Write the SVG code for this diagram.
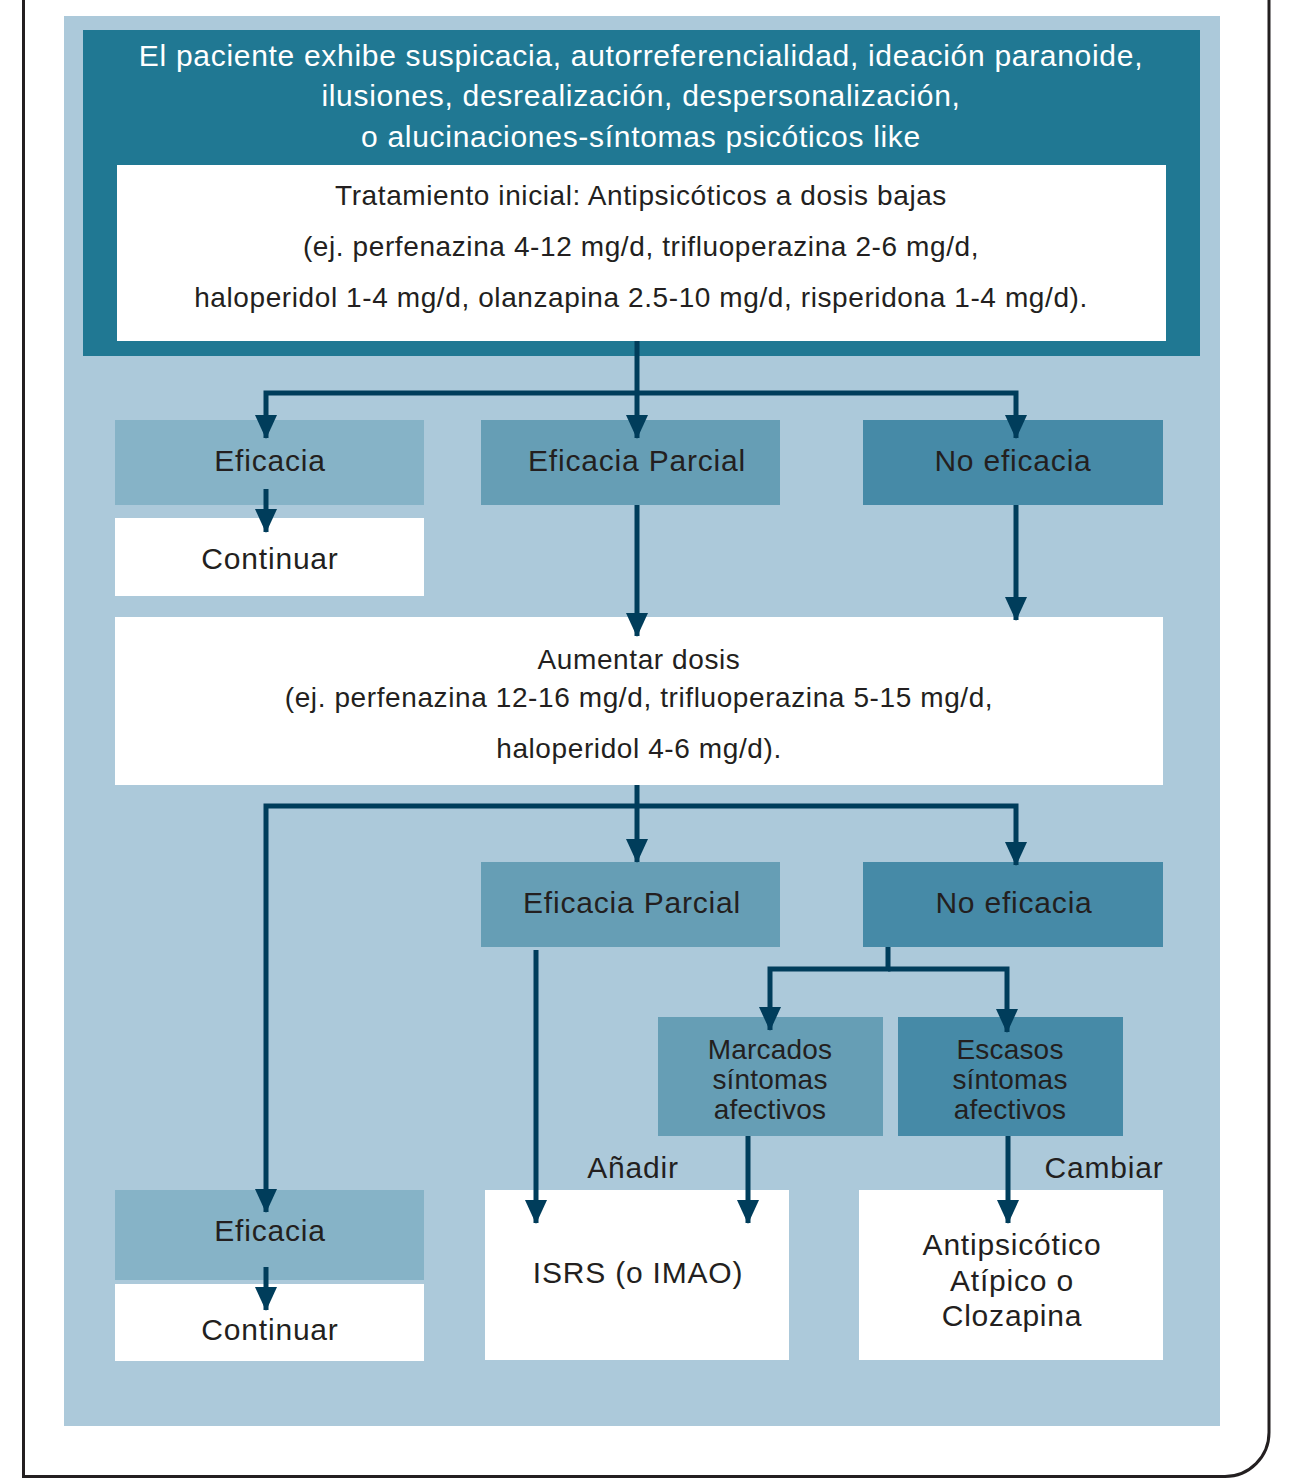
<svg xmlns="http://www.w3.org/2000/svg" width="1291" height="1479" viewBox="0 0 1291 1479">
<defs>
<style>
text{font-family:"Liberation Sans","Arial",sans-serif;fill:#231f20;text-anchor:middle}
.hdr{fill:#ffffff;font-size:30px;letter-spacing:0.7px}
.t26{font-size:28px;letter-spacing:0.6px}
.t29{font-size:30px;letter-spacing:0.8px}
.t27{font-size:28px;letter-spacing:0.2px}
.c{fill:none;stroke:#003d5b;stroke-width:5;stroke-linejoin:miter}
.l1{fill:#86b3c7}
.l2{fill:#669eb5}
.l3{fill:#468aa7}
.w{fill:#ffffff}
</style>
<marker id="ah" markerUnits="userSpaceOnUse" markerWidth="24" markerHeight="22" refX="23" refY="11" orient="auto" viewBox="0 0 24 22">
<path d="M0,0 L24,11 L0,22 z" fill="#003d5b"/>
</marker>
</defs>
<rect width="1291" height="1479" fill="#ffffff"/>
<path d="M23.5,0 V1476.5 H1225 A44,44 0 0 0 1269,1432.5 V0" fill="none" stroke="#231f20" stroke-width="3"/>
<rect x="64" y="16" width="1156" height="1410" fill="#acc9da"/>

<g id="header">
<rect x="83" y="30" width="1117" height="326" fill="#207893"/>
<text class="hdr" x="641" y="66">El paciente exhibe suspicacia, autorreferencialidad, ideación paranoide,</text>
<text class="hdr" x="641" y="106">ilusiones, desrealización, despersonalización,</text>
<text class="hdr" x="641" y="147">o alucinaciones-síntomas psicóticos like</text>
</g>
<g id="inicial">
<rect class="w" x="117" y="165" width="1049" height="176"/>
<text class="t26" x="641" y="205">Tratamiento inicial: Antipsicóticos a dosis bajas</text>
<text class="t26" x="641" y="256">(ej. perfenazina 4-12 mg/d, trifluoperazina 2-6 mg/d,</text>
<text class="t26" x="641" y="307">haloperidol 1-4 mg/d, olanzapina 2.5-10 mg/d, risperidona 1-4 mg/d).</text>
</g>

<g id="eficacia1">
<rect class="l1" x="115" y="420" width="309" height="85"/>
<text class="t29" x="270" y="471">Eficacia</text>
</g>
<g id="continuar1">
<rect class="w" x="115" y="518" width="309" height="78"/>
<text class="t29" x="270" y="569">Continuar</text>
</g>
<g id="parcial1">
<rect class="l2" x="481" y="420" width="299" height="85"/>
<text class="t29" x="637" y="471">Eficacia Parcial</text>
</g>
<g id="noeficacia1">
<rect class="l3" x="863" y="420" width="300" height="85"/>
<text class="t29" x="1013" y="471">No eficacia</text>
</g>

<g id="aumentar">
<rect class="w" x="115" y="617" width="1048" height="168"/>
<text class="t26" x="639" y="669">Aumentar dosis</text>
<text class="t26" x="639" y="707">(ej. perfenazina 12-16 mg/d, trifluoperazina 5-15 mg/d,</text>
<text class="t26" x="639" y="758">haloperidol 4-6 mg/d).</text>
</g>

<g id="parcial2">
<rect class="l2" x="481" y="862" width="299" height="85"/>
<text class="t29" x="632" y="913">Eficacia Parcial</text>
</g>
<g id="noeficacia2">
<rect class="l3" x="863" y="862" width="300" height="85"/>
<text class="t29" x="1014" y="913">No eficacia</text>
</g>

<g id="marcados">
<rect class="l2" x="658" y="1017" width="225" height="119"/>
<text class="t27" x="770" y="1059">Marcados</text>
<text class="t27" x="770" y="1089">síntomas</text>
<text class="t27" x="770" y="1119">afectivos</text>
</g>
<g id="escasos">
<rect class="l3" x="898" y="1017" width="225" height="119"/>
<text class="t27" x="1010" y="1059">Escasos</text>
<text class="t27" x="1010" y="1089">síntomas</text>
<text class="t27" x="1010" y="1119">afectivos</text>
</g>

<text class="t29" x="633" y="1178">Añadir</text>
<text class="t29" x="1104" y="1178">Cambiar</text>

<g id="eficacia2">
<rect class="l1" x="115" y="1190" width="309" height="90"/>
<text class="t29" x="270" y="1241">Eficacia</text>
</g>
<g id="continuar2">
<rect class="w" x="115" y="1284" width="309" height="77"/>
<text class="t29" x="270" y="1340">Continuar</text>
</g>
<g id="isrs">
<rect class="w" x="485" y="1190" width="304" height="170"/>
<text class="t29" x="638" y="1283">ISRS (o IMAO)</text>
</g>
<g id="atipico">
<rect class="w" x="859" y="1190" width="304" height="170"/>
<text class="t29" x="1012" y="1255">Antipsicótico</text>
<text class="t29" x="1012" y="1291">Atípico o</text>
<text class="t29" x="1012" y="1326">Clozapina</text>
</g>

<g id="connectors">
<path class="c" d="M637,341 V438" marker-end="url(#ah)"/>
<path class="c" d="M637,393 H266 V438" marker-end="url(#ah)"/>
<path class="c" d="M637,393 H1016 V438" marker-end="url(#ah)"/>
<path class="c" d="M266,489 V532" marker-end="url(#ah)"/>
<path class="c" d="M637,505 V636" marker-end="url(#ah)"/>
<path class="c" d="M1016,505 V620" marker-end="url(#ah)"/>
<path class="c" d="M637,785 V862" marker-end="url(#ah)"/>
<path class="c" d="M637,806 H266 V1212" marker-end="url(#ah)"/>
<path class="c" d="M637,806 H1016 V865" marker-end="url(#ah)"/>
<path class="c" d="M888,947 V969 H770 V1030" marker-end="url(#ah)"/>
<path class="c" d="M888,969 H1007 V1032" marker-end="url(#ah)"/>
<path class="c" d="M536,950 V1223" marker-end="url(#ah)"/>
<path class="c" d="M748,1136 V1223" marker-end="url(#ah)"/>
<path class="c" d="M1008,1136 V1223" marker-end="url(#ah)"/>
<path class="c" d="M266,1267 V1310" marker-end="url(#ah)"/>
</g>
</svg>
